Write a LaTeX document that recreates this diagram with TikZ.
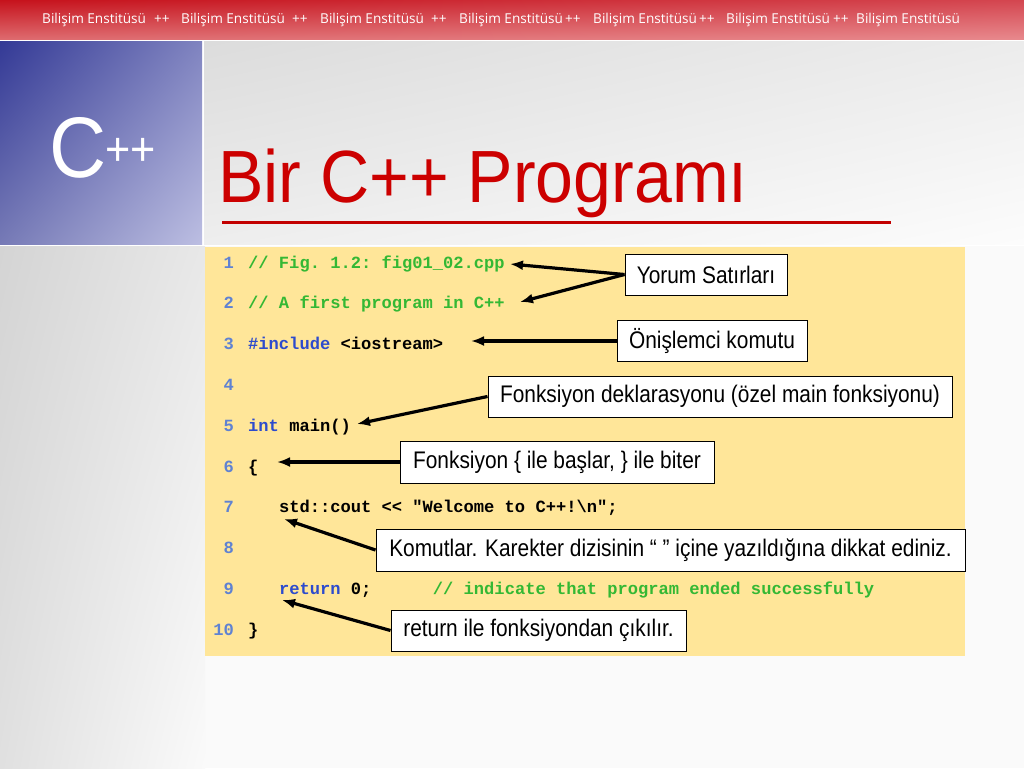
\documentclass[tikz,border=0pt]{standalone}
\usepackage{fontspec}
\usepackage{graphicx}
\setmainfont{Liberation Sans}
\setmonofont{Liberation Mono}
\newfontfamily\bannerfont{Open Sans}
\usetikzlibrary{arrows.meta,shadings}

\definecolor{bnUL}{RGB}{198,18,28}
\definecolor{bnUR}{RGB}{212,70,80}
\definecolor{bnLL}{RGB}{222,108,112}
\definecolor{bnLR}{RGB}{232,138,142}
\definecolor{blUL}{RGB}{52,58,150}
\definecolor{blUR}{RGB}{128,132,192}
\definecolor{blLL}{RGB}{118,122,182}
\definecolor{blLR}{RGB}{188,190,226}
\definecolor{gyUL}{RGB}{220,220,220}
\definecolor{gyUR}{RGB}{236,236,236}
\definecolor{gyLL}{RGB}{238,238,238}
\definecolor{gyLR}{RGB}{252,252,252}
\definecolor{lsUL}{RGB}{212,212,212}
\definecolor{lsUR}{RGB}{232,232,232}
\definecolor{lsLL}{RGB}{224,224,224}
\definecolor{lsLR}{RGB}{250,250,250}
\definecolor{titlered}{RGB}{204,0,0}
\definecolor{codebg}{RGB}{255,230,153}
\definecolor{cmtgreen}{RGB}{52,184,52}
\definecolor{kwblue}{RGB}{45,75,205}
\definecolor{lnblue}{RGB}{95,130,210}

\newcommand\narrowtxt[1]{\scalebox{0.87}[1]{#1}}

\tikzset{
  callout/.style={draw=black, line width=1pt, fill=white, inner sep=0pt,
    font=\fontsize{24}{28}\selectfont},
  pointer/.style={line width=3.2pt, -{Latex[length=13pt,width=10pt]}},
  codeline/.style={anchor=base west, inner sep=0pt,
    font=\ttfamily\bfseries\fontsize{17.1}{20}\selectfont},
  lineno/.style={anchor=base east, inner sep=0pt, text=lnblue,
    font=\ttfamily\bfseries\fontsize{17.1}{20}\selectfont},
  bannertxt/.style={anchor=base west, inner sep=0pt, text=white,
    font=\bannerfont\fontsize{13.6}{16}\selectfont},
}

\begin{document}
\begin{tikzpicture}[x=1pt,y=-1pt]
\useasboundingbox (0,0) rectangle (1024,768);
% backgrounds
\fill[white] (0,0) rectangle (1024,768);
\fill[black!2] (0,246) rectangle (1024,768);
\shade[upper left=lsUL, upper right=lsUR, lower left=lsLL, lower right=lsLR] (0,246) rectangle (205,768);
\shade[upper left=bnUL, upper right=bnUR, lower left=bnLL, lower right=bnLR] (0,0) rectangle (1024,40);
\shade[upper left=blUL, upper right=blUR, lower left=blLL, lower right=blLR] (0,42) rectangle (202,244);
\shade[upper left=gyUL, upper right=gyUR, lower left=gyLL, lower right=gyLR] (204,42) rectangle (1024,244);

% banner text
\foreach \bx in {42,181,320,459,593,726,856}
  \node[bannertxt] at (\bx,24) {Bilişim Enstitüsü};
\foreach \px in {154,292,431,565,699,833}
  \node[bannertxt] at (\px,24) {++};

% logo
\node[anchor=base west, inner sep=0pt, text=white, font=\fontsize{86}{90}\selectfont] (logoC) at (49,177) {\scalebox{0.92}[1]{C}};
\node[anchor=base west, inner sep=0pt, text=white, font=\fontsize{47}{50}\selectfont] (logoPP) at (105,165) {\scalebox{0.92}[1]{++}};

% title
\node[anchor=base west, inner sep=0pt, text=titlered, font=\fontsize{74}{80}\selectfont] (title) at (218,202) {\scalebox{0.92}[1]{Bir C++ Programı}};
\draw[titlered!95!black, line width=3.5pt] (222,222.5) -- (891,222.5);

% code box
\fill[codebg] (205,247) rectangle (965,656);

% line numbers
\foreach \n in {1,...,10}
  \node[lineno] (ln\n) at (234,{268+(\n-1)*40.8}) {\n};

% code
\node[codeline, text=cmtgreen] (c1) at (248,268) {// Fig. 1.2: fig01\_02.cpp};
\node[codeline, text=cmtgreen] (c2) at (248,308.8) {// A first program in C++};
\node[codeline] (c3) at (248,349.6) {\textcolor{kwblue}{\#include} <iostream>};
\node[codeline] (c5) at (248,431.2) {\textcolor{kwblue}{int} main()};
\node[codeline] (c6) at (248,472) {\{};
\node[codeline] (c7) at (278.8,512.8) {std::cout << "Welcome to C++!\textbackslash n";};
\node[codeline] (c9) at (278.8,594.4) {\textcolor{kwblue}{return} 0;~~~~~~\textcolor{cmtgreen}{// indicate that program ended successfully}};
\node[codeline] (c10) at (248,635.2) {\}};

% callouts
\node[callout, minimum width=162pt, minimum height=41pt] (yorum) at (706,274.5) {\narrowtxt{Yorum Satırları}};
\node[callout, minimum width=190pt, minimum height=41pt] (onis) at (712,341) {\narrowtxt{Önişlemci komutu}};
\node[callout, minimum width=464pt, minimum height=41pt] (dekl) at (720,396.5) {\narrowtxt{Fonksiyon deklarasyonu (özel main fonksiyonu)}};
\node[callout, minimum width=314pt, minimum height=42pt] (basla) at (557,462) {\narrowtxt{Fonksiyon \{ ile başlar, \} ile biter}};
\node[callout, minimum width=589pt, minimum height=42pt] (komut) at (670.5,550) {\narrowtxt{Komutlar. Karekter dizisinin “ ” içine yazıldığına dikkat ediniz.}};
\node[callout, minimum width=295pt, minimum height=41pt] (retn) at (538.5,630.5) {\narrowtxt{return ile fonksiyondan çıkılır.}};

% arrow tips
\coordinate (t1) at (510,264);
\coordinate (t2) at (520,302);
\coordinate (t3) at (471,341);
\coordinate (t4) at (357,424);
\coordinate (t5) at (277,462);
\coordinate (t6) at (284,519);
\coordinate (t7) at (282,600);

\draw[pointer] (yorum.west) -- (t1);
\draw[pointer] (yorum.west) -- (t2);
\draw[pointer] (onis.west) -- (t3);
\draw[pointer] (dekl.west) -- (t4);
\draw[pointer] (basla.west) -- (t5);
\draw[pointer] (komut.west) -- (t6);
\draw[pointer] (retn.west) -- (t7);
\end{tikzpicture}
\end{document}
